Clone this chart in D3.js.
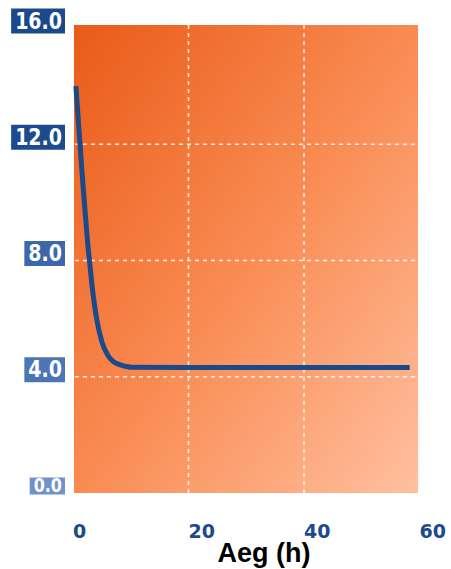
<!DOCTYPE html>
<html>
<head>
<meta charset="utf-8">
<script src="https://cdn.jsdelivr.net/npm/d3@7"></script>
<style>
  html, body { margin: 0; padding: 0; background: #fff; }
  svg { display: block; }
</style>
</head>
<body>
<svg id="chart" width="451" height="569"></svg>
<script>
// Concentration curve over time (hours)
const hours  = [0.5, 1.0, 1.5, 2.0, 2.5, 3.0, 3.5, 4.0, 5.0, 6.0, 7.0, 8.0, 9.0, 10.0, 20.0, 40.0, 58.3];
const values = [14.0, 12.6, 11.2, 9.9, 8.7, 7.7, 6.8, 6.1, 5.2, 4.75, 4.52, 4.42, 4.36, 4.33, 4.32, 4.32, 4.32];

const yTicks = [0, 4, 8, 12, 16];
const yTickLabels = ["0.0", "4.0", "8.0", "12.0", "16.0"];
const yBoxColors = ["#6f91cc", "#4b75b5", "#3c68aa", "#1d4b8d", "#1b4a8c"];
const xTicks = [0, 20, 40, 60];
const xTitle = "Aeg (h)";

const svg = d3.select("#chart");

const x = d3.scaleLinear().domain([0, 60]).range([73, 419.5]);
const y = d3.scaleLinear().domain([0, 16]).range([493, 28]);

const plotLeft = 74, plotRight = 418, plotTop = 25, plotBottom = 493;

// Orange diagonal gradient backdrop
const defs = svg.append("defs");
const grad = defs.append("linearGradient")
  .attr("id", "bg").attr("x1", 0).attr("y1", 0).attr("x2", 1).attr("y2", 1);
grad.append("stop").attr("offset", "0%").attr("stop-color", "#e95b18");
grad.append("stop").attr("offset", "50%").attr("stop-color", "#f98b52");
grad.append("stop").attr("offset", "100%").attr("stop-color", "#ffc0a0");

svg.append("rect")
  .attr("x", plotLeft).attr("y", plotTop)
  .attr("width", plotRight - plotLeft).attr("height", plotBottom - plotTop)
  .attr("fill", "url(#bg)");

// Dashed white grid
const grid = svg.append("g")
  .attr("stroke", "#fff").attr("stroke-opacity", 0.85)
  .attr("stroke-width", 1.5).attr("stroke-dasharray", "4,4");

grid.selectAll("line.h")
  .data(yTicks.filter(v => v > 0 && v < 16))
  .join("line")
  .attr("x1", plotLeft + 1).attr("x2", plotRight)
  .attr("y1", d => y(d)).attr("y2", d => y(d));

grid.selectAll("line.v")
  .data(xTicks.filter(v => v > 0 && v < 60))
  .join("line")
  .attr("x1", d => x(d)).attr("x2", d => x(d))
  .attr("y1", plotTop).attr("y2", plotBottom + 9);

// Curve
const line = d3.line()
  .x((d, i) => x(hours[i]))
  .y(d => y(d))
  .curve(d3.curveMonotoneX);

svg.append("path")
  .datum(values)
  .attr("d", line)
  .attr("fill", "none")
  .attr("stroke", "#1a4a8a")
  .attr("stroke-width", 5)
  .attr("stroke-linejoin", "round");

// Y tick labels on blue boxes
const yLab = svg.append("g");
yTicks.forEach((v, i) => {
  const g = yLab.append("g");
  const cy = y(v) - 7;
  const t = g.append("text")
    .attr("x", 62).attr("y", 0)
    .attr("text-anchor", "end")
    .attr("dominant-baseline", "central")
    .attr("font-family", "DejaVu Sans")
    .attr("font-weight", "bold")
    .attr("font-size", v === 0 ? 16 : 19)
    .attr("fill", "#fff")
    .attr("transform", `translate(0,${cy}) scale(1,1.18)`)
    .text(yTickLabels[i]);
  const bb = t.node().getBBox();
  const h = v === 0 ? 17 : 25;
  g.insert("rect", "text")
    .attr("x", bb.x - 4).attr("y", cy - h / 2)
    .attr("width", bb.width + 7).attr("height", h)
    .attr("fill", yBoxColors[i]);
});

// X tick labels
svg.append("g").selectAll("text")
  .data(xTicks)
  .join("text")
  .attr("x", d => x(d))
  .attr("y", 538)
  .attr("text-anchor", "start")
  .attr("font-family", "DejaVu Sans")
  .attr("font-weight", "bold")
  .attr("font-size", 19)
  .attr("fill", "#1c4a8c")
  .text(d => d);

// Axis title
svg.append("text")
  .attr("x", 264).attr("y", 562)
  .attr("text-anchor", "middle")
  .attr("font-family", "Liberation Sans, Arial, sans-serif")
  .attr("font-weight", "bold")
  .attr("font-size", 27)
  .attr("fill", "#000")
  .text(xTitle);
</script>
</body>
</html>
